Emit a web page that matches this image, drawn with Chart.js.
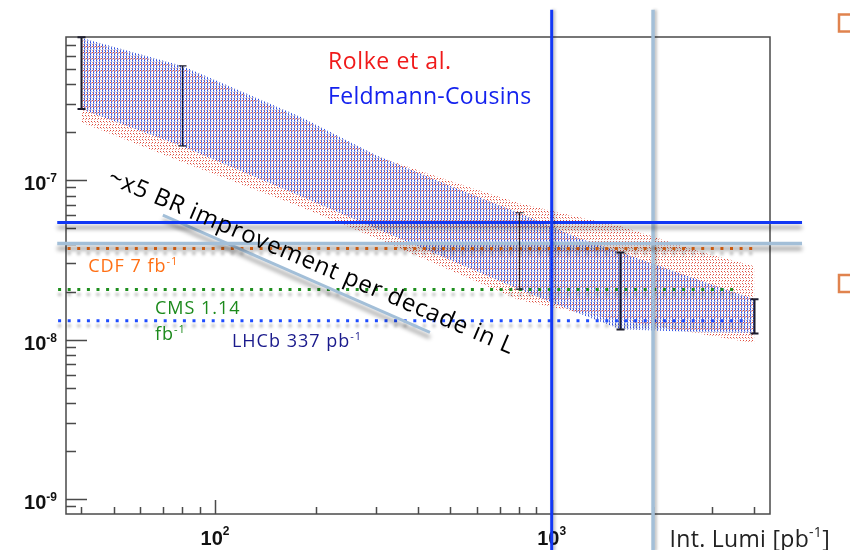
<!DOCTYPE html>
<html lang="en">
<head>
<meta charset="UTF-8">
<title>Expected BR limit vs integrated luminosity</title>
<script src="https://cdn.jsdelivr.net/npm/chart.js"></script>
<style>
  html, body { margin: 0; padding: 0; background: #fff; }
  canvas { display: block; }
</style>
</head>
<body>
<canvas id="limitChart" width="850" height="550"></canvas>
<script>
// luminosity samples [pb^-1] for the expected-limit bands
const lumi = [40, 80, 180, 300, 500, 800, 1200, 1600, 2800, 4000];
// Feldmann-Cousins band edges
const fcUpper = [7.82e-7, 5.19e-7, 2.49e-7, 1.435e-7, 9.17e-8, 6.23e-8, 4.33e-8, 3.53e-8, 2.32e-8, 1.79e-8];
const fcLower = [2.79e-7, 1.63e-7, 7.93e-8, 4.99e-8, 3.15e-8, 2.07e-8, 1.46e-8, 1.16e-8, 1.11e-8, 1.10e-8];
// Rolke et al. band edges
const rolkeUpper = [7.57e-7, 5.05e-7, 2.42e-7, 1.415e-7, 9.86e-8, 7.17e-8, 5.86e-8, 5.14e-8, 3.53e-8, 2.88e-8];
const rolkeLower = [2.31e-7, 1.30e-7, 6.77e-8, 4.33e-8, 2.72e-8, 1.77e-8, 1.48e-8, 1.32e-8, 1.08e-8, 9.48e-9];

// error bars on the FC band
const barLumi = [40, 80, 800, 1600, 4000];
const barHigh = [7.87e-7, 5.2e-7, 6.24e-8, 3.52e-8, 1.79e-8];
const barLow = [2.79e-7, 1.64e-7, 2.07e-8, 1.156e-8, 1.09e-8];

// existing limits from other experiments
const expNames = ['CDF 7 fb', 'CMS 1.14', 'LHCb 337 pb'];
const expLimits = [3.73e-8, 2.06e-8, 1.31e-8];

// markers: 1 fb^-1 and 2 fb^-1, and the limits reached there
const markLumi = [1000, 2000];
const markBR = [5.42e-8, 4.0e-8];

// "x5 per decade" guide
const guideLumi = [70, 435];
const guideBR = [6.03e-8, 1.11e-8];

const X_MIN = 36.1, X_MAX = 4450;
const Y_MIN = 8.05e-10, Y_MAX = 7.9e-7;

const canvas = document.getElementById('limitChart');
const ctx = canvas.getContext('2d');

function tilePattern(w, h, cells) {
  const tile = document.createElement('canvas');
  tile.width = w; tile.height = h;
  const g = tile.getContext('2d');
  for (const [x, y, col] of cells) { g.fillStyle = col; g.fillRect(x, y, 1, 1); }
  return ctx.createPattern(tile, 'repeat');
}
// dotted hatch fills for the two bands
const fcFill = tilePattern(3, 3, [
  [0, 0, '#2f4fe6'], [0, 1, '#a4acdc'], [0, 2, '#5b74e2'], [1, 1, '#c3c8ec']
]);
const rolkeFill = tilePattern(3, 6, [
  [1, 1, '#e0483a'], [2, 4, '#e0483a'], [2, 2, '#eba196'], [1, 5, '#eba196']
]);

const pts = (xs, ys) => xs.map((x, i) => ({ x, y: ys[i] }));
const seg = (x0, y0, x1, y1) => [{ x: x0, y: y0 }, { x: x1, y: y1 }];

const expColors = ['#ff7418', '#1f8f1f', '#1e4cff'];
const expSpan = [[36.5, 4000], [34.2, 3570], [34.2, 3870]];

const datasets = [
  // overlay markers
  { data: seg(markLumi[0], 1.17e-6, markLumi[0], 4.7e-10), borderColor: '#1238f5', borderWidth: 3, order: 1, clip: false, shadow: 'side' },
  { data: seg(34, markBR[0], 5540, markBR[0]), borderColor: '#1238f5', borderWidth: 3, order: 2, clip: false, shadow: 'below' },
  { data: seg(34, markBR[1], 5540, markBR[1]), borderColor: '#a3bfd8', borderWidth: 3.5, order: 3, clip: false, shadow: 'below' },
  { data: seg(markLumi[1], 1.17e-6, markLumi[1], 4.7e-10), borderColor: '#a3bfd8', borderWidth: 3.5, order: 4, clip: false, shadow: 'side' },
  { data: pts(guideLumi, guideBR), borderColor: '#a3bfd8', borderWidth: 3, order: 5, clip: false, shadow: 'below' },
  // experiment limits
  ...expLimits.map((v, i) => ({
    data: seg(expSpan[i][0], v, expSpan[i][1], v),
    borderColor: expColors[i], borderWidth: 3, borderDash: [3, 6.6], borderCapStyle: 'butt',
    order: 6 + i, clip: false, shadow: 'dots'
  })),
  // bands
  { data: pts(lumi, fcUpper), borderWidth: 0, borderColor: 'transparent', fill: false, order: 11 },
  { data: pts(lumi, fcLower), borderWidth: 0, borderColor: 'transparent', fill: '-1', backgroundColor: fcFill, order: 10 },
  { data: pts(lumi, rolkeUpper), borderWidth: 0, borderColor: 'transparent', fill: false, order: 13 },
  { data: pts(lumi, rolkeLower), borderWidth: 0, borderColor: 'transparent', fill: '-1', backgroundColor: rolkeFill, order: 12 }
];

function drawRich(c, parts, x, y, o) {
  const supSize = Math.round(o.size * 0.62);
  const fontOf = sup => `${o.weight || ''} ${sup ? supSize : o.size}px ${o.family}`.trim();
  c.letterSpacing = o.spacing || '0px';
  let total = 0;
  const w = parts.map(([t, sup]) => { c.font = fontOf(sup); const m = c.measureText(t).width; total += m; return m; });
  let cx = o.align === 'right' ? x - total : o.align === 'center' ? x - total / 2 : x;
  c.fillStyle = o.color;
  c.textAlign = 'left';
  c.textBaseline = 'alphabetic';
  parts.forEach(([t, sup], i) => {
    c.font = fontOf(sup);
    c.fillText(t, cx, sup ? y - (o.raise || o.size * 0.42) : y);
    cx += w[i];
  });
  c.letterSpacing = '0px';
}

function logTicks(min, max) {
  const out = [];
  for (let e = Math.floor(Math.log10(min)); e <= Math.ceil(Math.log10(max)); e++) {
    for (let m = 1; m <= 9; m++) {
      const v = m * Math.pow(10, e);
      if (v >= min * 0.999 && v <= max * 1.001) out.push({ v, e, major: m === 1 });
    }
  }
  return out;
}

const shadowPlugin = {
  id: 'shadows',
  beforeDatasetDraw(chart, args) {
    const kind = chart.data.datasets[args.index].shadow;
    if (!kind) return;
    const c = chart.ctx;
    c.save();
    if (kind === 'side') {
      c.shadowColor = 'rgba(0,0,0,0.25)'; c.shadowOffsetX = 2; c.shadowBlur = 3;
    } else if (kind === 'dots') {
      c.shadowColor = 'rgba(0,0,0,0.3)'; c.shadowOffsetY = 5; c.shadowBlur = 3;
    } else {
      c.shadowColor = 'rgba(0,0,0,0.4)'; c.shadowOffsetY = 5; c.shadowBlur = 4;
    }
  },
  afterDatasetDraw(chart, args) {
    if (chart.data.datasets[args.index].shadow) chart.ctx.restore();
  }
};

const framePlugin = {
  id: 'frame',
  beforeDatasetsDraw(chart) {
    const c = chart.ctx;
    const { left, right, top, bottom } = chart.chartArea;
    const xs = chart.scales.x, ys = chart.scales.y;
    c.save();
    c.strokeStyle = '#4a4a4a';
    c.lineWidth = 1.5;
    c.strokeRect(left, top, right - left, bottom - top);
    c.beginPath();
    for (const t of logTicks(Y_MIN, Y_MAX)) {
      const py = Math.round(ys.getPixelForValue(t.v)) + 0.5;
      c.moveTo(left, py); c.lineTo(left + (t.major ? 21 : 10), py);
    }
    for (const t of logTicks(X_MIN, X_MAX)) {
      const px = Math.round(xs.getPixelForValue(t.v)) + 0.5;
      c.moveTo(px, bottom); c.lineTo(px, bottom - (t.major ? 14 : 7));
    }
    c.stroke();
    const lab = { size: 20, family: '"Liberation Sans", Arial, sans-serif', weight: 'bold', color: '#111' };
    for (const t of logTicks(Y_MIN, Y_MAX)) {
      if (!t.major) continue;
      const py = ys.getPixelForValue(t.v);
      drawRich(c, [['10', false], [String(t.e), true]], left - 9, py + 10, { ...lab, align: 'right', raise: 8 });
    }
    for (const t of logTicks(X_MIN, X_MAX)) {
      if (!t.major) continue;
      const px = xs.getPixelForValue(t.v);
      drawRich(c, [['10', false], [String(t.e), true]], px, bottom + 31, { ...lab, align: 'center', raise: 10 });
    }
    c.restore();
  },
  afterDatasetsDraw(chart) {
    const c = chart.ctx;
    const xs = chart.scales.x, ys = chart.scales.y;
    const { bottom } = chart.chartArea;
    c.save();
    // error bars
    c.strokeStyle = '#1c1c2c';
    barLumi.forEach((l, i) => {
      const px = Math.round(xs.getPixelForValue(l)) + 0.5;
      const y1 = ys.getPixelForValue(barHigh[i]), y0 = ys.getPixelForValue(barLow[i]);
      c.lineWidth = (i === 1 || i === 2) ? 1.2 : 2;
      c.beginPath();
      c.moveTo(px, y1); c.lineTo(px, y0);
      c.moveTo(px - 4, y1); c.lineTo(px + 4, y1);
      c.moveTo(px - 4, y0); c.lineTo(px + 4, y0);
      c.stroke();
    });

    const sans = '"Open Sans", "DejaVu Sans", sans-serif';
    const at = (l, v) => [xs.getPixelForValue(l), ys.getPixelForValue(v)];

    // legend text
    let p = at(216.6, 4.97e-7);
    drawRich(c, [['Rolke et al.', false]], p[0], p[1], { size: 23, family: sans, color: '#f01a1a', spacing: '0.6px' });
    p = at(216.6, 3.0e-7);
    drawRich(c, [['Feldmann-Cousins', false]], p[0], p[1], { size: 23, family: sans, color: '#1422ee', spacing: '0.3px' });

    // experiment labels
    const small = { size: 18, family: sans, spacing: '1px' };
    p = at(42, 2.65e-8);
    drawRich(c, [[expNames[0], false], ['-1', true]], p[0], p[1], { ...small, color: '#ff6f14' });
    p = at(66.3, 1.44e-8);
    drawRich(c, [[expNames[1], false]], p[0], p[1], { ...small, color: '#1c8a1c' });
    p = at(66.3, 9.9e-9);
    drawRich(c, [['fb', false], ['-1', true]], p[0], p[1], { ...small, color: '#1c8a1c' });
    p = at(112.3, 8.95e-9);
    drawRich(c, [[expNames[2], false], ['-1', true]], p[0], p[1], { ...small, color: '#1a1a8c' });

    // slope annotation
    p = at(193, 3.05e-8);
    c.save();
    c.translate(p[0], p[1]);
    c.rotate(23 * Math.PI / 180);
    c.font = `24px ${sans}`;
    c.letterSpacing = '0.8px';
    c.fillStyle = '#000';
    c.textAlign = 'center';
    c.textBaseline = 'middle';
    c.fillText('~x5 BR improvement per decade in L', 0, 0);
    c.restore();

    // axis title
    drawRich(c, [['Int. Lumi [pb', false], ['-1', true], [']', false]], chart.width - 20, bottom + 33,
      { size: 23, family: sans, color: '#222', align: 'right', spacing: '0.3px' });

    // slide bullets on the right margin
    c.strokeStyle = '#e0834e';
    c.lineWidth = 2.5;
    c.strokeRect(chart.width - 11, 14.5, 16, 17);
    c.strokeRect(chart.width - 11, 275, 16, 17);
    c.restore();
  }
};

new Chart(ctx, {
  type: 'line',
  data: { datasets },
  options: {
    responsive: false,
    devicePixelRatio: 1,
    animation: false,
    layout: { padding: { left: 66, top: 37, right: 80, bottom: 36 } },
    elements: { point: { radius: 0 }, line: { tension: 0 } },
    plugins: { legend: { display: false }, tooltip: { enabled: false } },
    scales: {
      x: {
        type: 'logarithmic', min: X_MIN, max: X_MAX,
        grid: { display: false, drawTicks: false }, border: { display: false },
        ticks: { display: false }
      },
      y: {
        type: 'logarithmic', min: Y_MIN, max: Y_MAX,
        grid: { display: false, drawTicks: false }, border: { display: false },
        ticks: { display: false }
      }
    }
  },
  plugins: [shadowPlugin, framePlugin]
});
</script>
</body>
</html>
